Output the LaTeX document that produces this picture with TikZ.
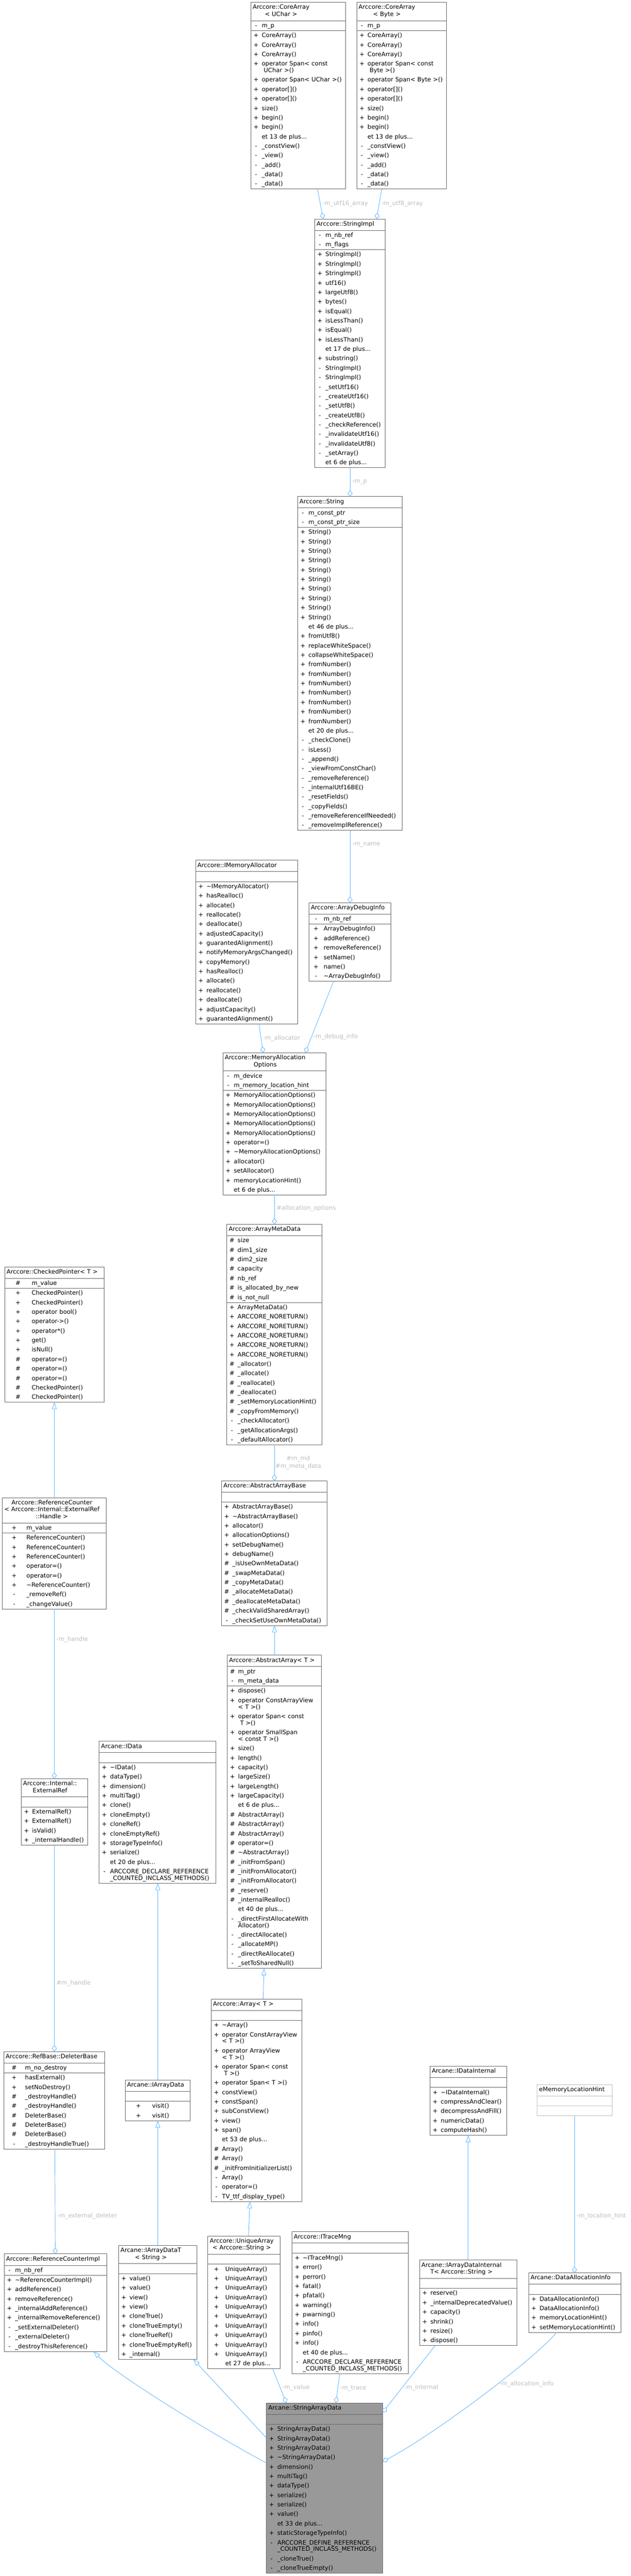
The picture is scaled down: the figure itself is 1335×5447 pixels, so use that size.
\documentclass[tikz,border=0pt]{standalone}
\usepackage{fontspec}
\setmainfont{DejaVu Sans}
\usepackage{array}
\usetikzlibrary{shapes.multipart,arrows.meta,calc}

\definecolor{boxline}{HTML}{666666}
\definecolor{boxlight}{HTML}{BFBFBF}
\definecolor{boxfocus}{HTML}{999999}
\definecolor{edgeblue}{HTML}{63B8FF}
\definecolor{lblgray}{HTML}{BEBEBE}

\newcommand\classfont{\fontsize{9.5pt}{15pt}\selectfont}
\newcommand\ctitle[1]{\centering\begin{tabular}{@{}c@{}}#1\rule[-6.75pt]{0pt}{10.5pt}\end{tabular}}
\newcommand\cmem[2][10.5pt]{\begin{tabular}{@{}w{c}{#1}@{\hspace{3.75pt}}l@{}}#2\end{tabular}}
\newcommand\cnone{\rule{0pt}{15pt}}

\tikzset{
  cls/.style={draw=boxline, line width=0.75pt, fill=white, rectangle split, rectangle split parts=3,
    inner xsep=3pt, inner ysep=0pt, outer sep=0pt, anchor=north west, text width={(#1-8)*0.75pt}, font=\classfont},
  focusbox/.style={fill=boxfocus},
  faintbox/.style={draw=boxlight},
  aggrline/.style={draw=edgeblue, line width=0.75pt, -{Diamond[open, length=10pt, width=8pt]}},
  inhline/.style={draw=edgeblue, line width=0.75pt, -{Triangle[open, length=11pt, width=7.5pt]}},
  edgelbl/.style={font=\classfont, text=lblgray, anchor=west, inner xsep=3pt, inner ysep=1pt}
}

\begin{document}
\begin{tikzpicture}[x=0.75pt, y=-0.75pt]
\fill[white] (0,0) rectangle (1335,5447);
\useasboundingbox (0,0) rectangle (1335,5447);

%Core arrays
\node[cls=200] (coreuchar) at (531,5) {\ctitle{Arccore::CoreArray\\[-4pt]< UChar >}\nodepart{two}\cmem{- & m\_p}\nodepart{three}\cmem{
+ & CoreArray()\\
+ & CoreArray()\\
+ & CoreArray()\\
+ & operator Span< const\\[-4.5pt]
 & \ UChar >()\\
+ & operator Span< UChar >()\\
+ & operator[]()\\
+ & operator[]()\\
+ & size()\\
+ & begin()\\
+ & begin()\\
 & et 13 de plus...\\
- & \_constView()\\
- & \_view()\\
- & \_add()\\
- & \_data()\\
- & \_data()}};
\node[cls=190] (corebyte) at (755,5) {\ctitle{Arccore::CoreArray\\[-4pt]< Byte >}\nodepart{two}\cmem{- & m\_p}\nodepart{three}\cmem{
+ & CoreArray()\\
+ & CoreArray()\\
+ & CoreArray()\\
+ & operator Span< const\\[-4.5pt]
 & \ Byte >()\\
+ & operator Span< Byte >()\\
+ & operator[]()\\
+ & operator[]()\\
+ & size()\\
+ & begin()\\
+ & begin()\\
 & et 13 de plus...\\
- & \_constView()\\
- & \_view()\\
- & \_add()\\
- & \_data()\\
- & \_data()}};

%String implementation
\node[cls=149] (strimpl) at (666,463) {\ctitle{Arccore::StringImpl}\nodepart{two}\cmem{- & m\_nb\_ref\\
- & m\_flags}\nodepart{three}\cmem{
+ & StringImpl()\\
+ & StringImpl()\\
+ & StringImpl()\\
+ & utf16()\\
+ & largeUtf8()\\
+ & bytes()\\
+ & isEqual()\\
+ & isLessThan()\\
+ & isEqual()\\
+ & isLessThan()\\
 & et 17 de plus...\\
+ & substring()\\
- & StringImpl()\\
- & StringImpl()\\
- & \_setUtf16()\\
- & \_createUtf16()\\
- & \_setUtf8()\\
- & \_createUtf8()\\
- & \_checkReference()\\
- & \_invalidateUtf16()\\
- & \_invalidateUtf8()\\
- & \_setArray()\\
 & et 6 de plus...}};

%String
\node[cls=221] (str) at (630,1050) {\ctitle{Arccore::String}\nodepart{two}\cmem{- & m\_const\_ptr\\
- & m\_const\_ptr\_size}\nodepart{three}\cmem{
+ & String()\\
+ & String()\\
+ & String()\\
+ & String()\\
+ & String()\\
+ & String()\\
+ & String()\\
+ & String()\\
+ & String()\\
+ & String()\\
 & et 46 de plus...\\
+ & fromUtf8()\\
+ & replaceWhiteSpace()\\
+ & collapseWhiteSpace()\\
+ & fromNumber()\\
+ & fromNumber()\\
+ & fromNumber()\\
+ & fromNumber()\\
+ & fromNumber()\\
+ & fromNumber()\\
+ & fromNumber()\\
 & et 20 de plus...\\
- & \_checkClone()\\
- & isLess()\\
- & \_append()\\
- & \_viewFromConstChar()\\
- & \_removeReference()\\
- & \_internalUtf16BE()\\
- & \_resetFields()\\
- & \_copyFields()\\
- & \_removeReferenceIfNeeded()\\
- & \_removeImplReference()}};

%Allocator and debug info
\node[cls=216] (imemalloc) at (414,1819) {\ctitle{Arccore::IMemoryAllocator}\nodepart{two}\cnone\nodepart{three}\cmem{
+ & \textasciitilde IMemoryAllocator()\\
+ & hasRealloc()\\
+ & allocate()\\
+ & reallocate()\\
+ & deallocate()\\
+ & adjustedCapacity()\\
+ & guarantedAlignment()\\
+ & notifyMemoryArgsChanged()\\
+ & copyMemory()\\
+ & hasRealloc()\\
+ & allocate()\\
+ & reallocate()\\
+ & deallocate()\\
+ & adjustCapacity()\\
+ & guarantedAlignment()}};
\node[cls=173] (dbginfo) at (654,1909) {\ctitle{Arccore::ArrayDebugInfo}\nodepart{two}\cmem[16.5pt]{- & m\_nb\_ref}\nodepart{three}\cmem[16.5pt]{
+ & ArrayDebugInfo()\\
+ & addReference()\\
+ & removeReference()\\
+ & setName()\\
+ & name()\\
- & \textasciitilde ArrayDebugInfo()}};

%Allocation options
\node[cls=218] (memopts) at (472,2226) {\ctitle{Arccore::MemoryAllocation\\[-4pt]Options}\nodepart{two}\cmem{- & m\_device\\
- & m\_memory\_location\_hint}\nodepart{three}\cmem{
+ & MemoryAllocationOptions()\\
+ & MemoryAllocationOptions()\\
+ & MemoryAllocationOptions()\\
+ & MemoryAllocationOptions()\\
+ & MemoryAllocationOptions()\\
+ & operator=()\\
+ & \textasciitilde MemoryAllocationOptions()\\
+ & allocator()\\
+ & setAllocator()\\
+ & memoryLocationHint()\\
 & et 6 de plus...}};

%Meta data
\node[cls=201] (metadata) at (480,2589) {\ctitle{Arccore::ArrayMetaData}\nodepart{two}\cmem{\# & size\\
\# & dim1\_size\\
\# & dim2\_size\\
\# & capacity\\
\# & nb\_ref\\
\# & is\_allocated\_by\_new\\
\# & is\_not\_null}\nodepart{three}\cmem{
+ & ArrayMetaData()\\
+ & ARCCORE\_NORETURN()\\
+ & ARCCORE\_NORETURN()\\
+ & ARCCORE\_NORETURN()\\
+ & ARCCORE\_NORETURN()\\
+ & ARCCORE\_NORETURN()\\
\# & \_allocator()\\
\# & \_allocate()\\
\# & \_reallocate()\\
\# & \_deallocate()\\
\# & \_setMemoryLocationHint()\\
\# & \_copyFromMemory()\\
- & \_checkAllocator()\\
- & \_getAllocationArgs()\\
- & \_defaultAllocator()}};

%Checked pointer and reference counter
\node[cls=211] (chkptr) at (10,2679) {\ctitle{Arccore::CheckedPointer< T >}\nodepart{two}\cmem[36pt]{\# & m\_value}\nodepart{three}\cmem[36pt]{
+ & CheckedPointer()\\
+ & CheckedPointer()\\
+ & operator bool()\\
+ & operator->()\\
+ & operator*()\\
+ & get()\\
+ & isNull()\\
\# & operator=()\\
\# & operator=()\\
\# & operator=()\\
\# & CheckedPointer()\\
\# & CheckedPointer()}};
\node[cls=220] (refcnt) at (5,3167) {\ctitle{Arccore::ReferenceCounter\\[-4pt]< Arccore::Internal::ExternalRef\\[-4pt]::Handle >}\nodepart{two}\cmem[31.5pt]{+ & m\_value}\nodepart{three}\cmem[31.5pt]{
+ & ReferenceCounter()\\
+ & ReferenceCounter()\\
+ & ReferenceCounter()\\
+ & operator=()\\
+ & operator=()\\
+ & \textasciitilde ReferenceCounter()\\
- & \_removeRef()\\
- & \_changeValue()}};

%Abstract array base
\node[cls=223] (absbase) at (469,3131) {\ctitle{Arccore::AbstractArrayBase}\nodepart{two}\cnone\nodepart{three}\cmem{
+ & AbstractArrayBase()\\
+ & \textasciitilde AbstractArrayBase()\\
+ & allocator()\\
+ & allocationOptions()\\
+ & setDebugName()\\
+ & debugName()\\
\# & \_isUseOwnMetaData()\\
\# & \_swapMetaData()\\
\# & \_copyMetaData()\\
\# & \_allocateMetaData()\\
\# & \_deallocateMetaData()\\
\# & \_checkValidSharedArray()\\
- & \_checkSetUseOwnMetaData()}};

%Abstract array
\node[cls=199] (absarray) at (481,3500) {\ctitle{Arccore::AbstractArray< T >}\nodepart{two}\cmem{\# & m\_ptr\\
- & m\_meta\_data}\nodepart{three}\cmem{
+ & dispose()\\
+ & operator ConstArrayView\\[-4.5pt]
 & < T >()\\
+ & operator Span< const\\[-4.5pt]
 & \ T >()\\
+ & operator SmallSpan\\[-4.5pt]
 & < const T >()\\
+ & size()\\
+ & length()\\
+ & capacity()\\
+ & largeSize()\\
+ & largeLength()\\
+ & largeCapacity()\\
 & et 6 de plus...\\
\# & AbstractArray()\\
\# & AbstractArray()\\
\# & AbstractArray()\\
\# & operator=()\\
\# & \textasciitilde AbstractArray()\\
\# & \_initFromSpan()\\
\# & \_initFromAllocator()\\
\# & \_initFromAllocator()\\
\# & \_reserve()\\
\# & \_internalRealloc()\\
 & et 40 de plus...\\
- & \_directFirstAllocateWith\\[-4.5pt]
 & Allocator()\\
- & \_directAllocate()\\
- & \_allocateMP()\\
- & \_directReAllocate()\\
- & \_setToSharedNull()}};

%Data interface
\node[cls=247] (idata) at (210,3682) {\ctitle{Arcane::IData}\nodepart{two}\cnone\nodepart{three}\cmem{
+ & \textasciitilde IData()\\
+ & dataType()\\
+ & dimension()\\
+ & multiTag()\\
+ & clone()\\
+ & cloneEmpty()\\
+ & cloneRef()\\
+ & cloneEmptyRef()\\
+ & storageTypeInfo()\\
+ & serialize()\\
 & et 20 de plus...\\
- & ARCCORE\_DECLARE\_REFERENCE\\[-4.5pt]
 & \_COUNTED\_INCLASS\_METHODS()}};

%External reference
\node[cls=141] (extref) at (45,3761) {\ctitle{Arccore::Internal::\\[-4pt]ExternalRef}\nodepart{two}\cnone\nodepart{three}\cmem{
+ & ExternalRef()\\
+ & ExternalRef()\\
+ & isValid()\\
+ & \_internalHandle()}};

%Array
\node[cls=192] (array) at (447,4227) {\ctitle{Arccore::Array< T >}\nodepart{two}\cnone\nodepart{three}\cmem{
+ & \textasciitilde Array()\\
+ & operator ConstArrayView\\[-4.5pt]
 & < T >()\\
+ & operator ArrayView\\[-4.5pt]
 & < T >()\\
+ & operator Span< const\\[-4.5pt]
 & \ T >()\\
+ & operator Span< T >()\\
+ & constView()\\
+ & constSpan()\\
+ & subConstView()\\
+ & view()\\
+ & span()\\
 & et 53 de plus...\\
\# & Array()\\
\# & Array()\\
\# & \_initFromInitializerList()\\
- & Array()\\
- & operator=()\\
- & TV\_ttf\_display\_type()}};

%Deleter base
\node[cls=214] (delbase) at (8,4338) {\ctitle{Arccore::RefBase::DeleterBase}\nodepart{two}\cmem[27pt]{\# & m\_no\_destroy}\nodepart{three}\cmem[27pt]{
+ & hasExternal()\\
+ & setNoDestroy()\\
\# & \_destroyHandle()\\
\# & \_destroyHandle()\\
\# & DeleterBase()\\
\# & DeleterBase()\\
\# & DeleterBase()\\
- & \_destroyHandleTrue()}};

%Data internal
\node[cls=162] (datainternal) at (910,4369) {\ctitle{Arcane::IDataInternal}\nodepart{two}\cnone\nodepart{three}\cmem{
+ & \textasciitilde IDataInternal()\\
+ & compressAndClear()\\
+ & decompressAndFill()\\
+ & numericData()\\
+ & computeHash()}};

%Array data interface
\node[cls=138] (iarraydata) at (265,4398) {\ctitle{Arcane::IArrayData}\nodepart{two}\cnone\nodepart{three}\cmem[36pt]{
+ & visit()\\
+ & visit()}};

%Location hint
\node[cls=159, faintbox] (lochint) at (1137,4408) {\ctitle{eMemoryLocationHint}\nodepart{two}\cnone\nodepart{three}\cnone};

%Trace manager
\node[cls=246] (tracemng) at (618,4719) {\ctitle{Arccore::ITraceMng}\nodepart{two}\cnone\nodepart{three}\cmem{
+ & \textasciitilde ITraceMng()\\
+ & error()\\
+ & perror()\\
+ & fatal()\\
+ & pfatal()\\
+ & warning()\\
+ & pwarning()\\
+ & info()\\
+ & pinfo()\\
+ & info()\\
 & et 40 de plus...\\
- & ARCCORE\_DECLARE\_REFERENCE\\[-4.5pt]
 & \_COUNTED\_INCLASS\_METHODS()}};

%Unique array
\node[cls=153] (uniquearr) at (440,4728) {\ctitle{Arccore::UniqueArray\\[-4pt]< Arccore::String >}\nodepart{two}\cnone\nodepart{three}\cmem[21pt]{
+ & UniqueArray()\\
+ & UniqueArray()\\
+ & UniqueArray()\\
+ & UniqueArray()\\
+ & UniqueArray()\\
+ & UniqueArray()\\
+ & UniqueArray()\\
+ & UniqueArray()\\
+ & UniqueArray()\\
+ & UniqueArray()\\
 & et 27 de plus...}};

%Typed array data
\node[cls=166] (iarraydatat) at (251,4748) {\ctitle{Arcane::IArrayDataT\\[-4pt]< String >}\nodepart{two}\cnone\nodepart{three}\cmem{
+ & value()\\
+ & value()\\
+ & view()\\
+ & view()\\
+ & cloneTrue()\\
+ & cloneTrueEmpty()\\
+ & cloneTrueRef()\\
+ & cloneTrueEmptyRef()\\
+ & \_internal()}};

%Reference counter implementation
\node[cls=217] (refcntimpl) at (9,4766) {\ctitle{Arccore::ReferenceCounterImpl}\nodepart{two}\cmem{- & m\_nb\_ref}\nodepart{three}\cmem{
+ & \textasciitilde ReferenceCounterImpl()\\
+ & addReference()\\
+ & removeReference()\\
+ & \_internalAddReference()\\
+ & \_internalRemoveReference()\\
- & \_setExternalDeleter()\\
- & \_externalDeleter()\\
- & \_destroyThisReference()}};

%Internal typed array data
\node[cls=206] (arrayinternal) at (888,4779) {\ctitle{Arcane::IArrayDataInternal\\[-4pt]T< Arccore::String >}\nodepart{two}\cnone\nodepart{three}\cmem{
+ & reserve()\\
+ & \_internalDeprecatedValue()\\
+ & capacity()\\
+ & shrink()\\
+ & resize()\\
+ & dispose()}};

%Allocation info
\node[cls=195] (allocinfo) at (1119,4806) {\ctitle{Arcane::DataAllocationInfo}\nodepart{two}\cnone\nodepart{three}\cmem{
+ & DataAllocationInfo()\\
+ & DataAllocationInfo()\\
+ & memoryLocationHint()\\
+ & setMemoryLocationHint()}};

%String array data
\node[cls=246, focusbox] (strdata) at (564,5081) {\ctitle{Arcane::StringArrayData}\nodepart{two}\cnone\nodepart{three}\cmem{
+ & StringArrayData()\\
+ & StringArrayData()\\
+ & StringArrayData()\\
+ & \textasciitilde StringArrayData()\\
+ & dimension()\\
+ & multiTag()\\
+ & dataType()\\
+ & serialize()\\
+ & serialize()\\
+ & value()\\
 & et 33 de plus...\\
+ & staticStorageTypeInfo()\\
- & ARCCORE\_DEFINE\_REFERENCE\\[-4.5pt]
 & \_COUNTED\_INCLASS\_METHODS()\\
- & \_cloneTrue()\\
- & \_cloneTrueEmpty()}};

%Members
\draw[aggrline] ($(coreuchar.south west)+(141,0)$) -- ($(strimpl.north west)+(18,0)$) node[edgelbl, pos=0.5] (lutf16) {-m\_utf16\_array};
\draw[aggrline] ($(corebyte.south west)+(53,0)$) -- ($(strimpl.north west)+(131,0)$) node[edgelbl, pos=0.5] (lutf8) {-m\_utf8\_array};
\draw[aggrline] ($(strimpl.south west)+(75,0)$) -- ($(str.north west)+(111,0)$) node[edgelbl, pos=0.5] (lmp) {-m\_p};
\draw[aggrline] ($(str.south west)+(111,0)$) -- ($(dbginfo.north west)+(87,0)$) node[edgelbl, pos=0.2] (lname) {-m\_name};
\draw[aggrline] ($(imemalloc.south west)+(134,0)$) -- ($(memopts.north west)+(85,0)$) node[edgelbl, pos=0.5] (lalloc) {-m\_allocator};
\draw[aggrline] ($(dbginfo.south west)+(52,0)$) -- ($(memopts.north west)+(174,0)$) node[edgelbl, pos=0.78] (ldebug) {-m\_debug\_info};
\draw[aggrline] ($(memopts.south west)+(109,0)$) -- ($(metadata.north west)+(101,0)$) node[edgelbl, pos=0.45] (lopts) {\#allocation\_options};
\draw[aggrline] ($(metadata.south west)+(101,0)$) -- ($(absbase.north west)+(112,0)$) node[edgelbl, pos=0.5, align=center, inner xsep=1pt] (lmeta) {\#m\_md\\[-3pt]\#m\_meta\_data};
\draw[aggrline] ($(refcnt.south west)+(110,0)$) -- ($(extref.north west)+(70,0)$) node[edgelbl, pos=0.18] (lhandle) {-m\_handle};
\draw[aggrline] ($(extref.south west)+(70,0)$) -- ($(delbase.north west)+(107,0)$) node[edgelbl, pos=0.67] (lhandleb) {\#m\_handle};
\draw[aggrline] ($(delbase.south west)+(108,0)$) -- ($(refcntimpl.north west)+(108,0)$) node[edgelbl, pos=0.64] (ldeleter) {-m\_external\_deleter};
\draw[aggrline] ($(lochint.south west)+(79,0)$) -- ($(allocinfo.north west)+(97,0)$) node[edgelbl, pos=0.64] (lhint) {-m\_location\_hint};
\draw[aggrline] ($(uniquearr.south west)+(137,0)$) -- ($(strdata.north west)+(42,0)$) node[edgelbl, pos=0.55] (lvalue) {-m\_value};
\draw[aggrline] ($(tracemng.south west)+(101,0)$) -- ($(strdata.north west)+(147,0)$) node[edgelbl, pos=0.5] (ltrace) {-m\_trace};
\draw[aggrline] ($(arrayinternal.south west)+(33,0)$) -- ($(strdata.north east)+(0,20)$) node[edgelbl, pos=0.63] (linternal) {-m\_internal};
\draw[aggrline] ($(allocinfo.south west)+(59,0)$) .. controls +(-45,55) and +(110,-58) .. ($(strdata.north east)+(0,124)$) node[edgelbl, pos=0.42] (lallocinfo) {-m\_allocation\_info};

%Inheritance
\draw[inhline] ($(absarray.north west)+(100,0)$) -- ($(absbase.south west)+(112,0)$);
\draw[inhline] ($(refcnt.north west)+(110,0)$) -- ($(chkptr.south west)+(105,0)$);
\draw[inhline] ($(iarraydata.north west)+(69,0)$) -- ($(idata.south west)+(124,0)$);
\draw[inhline] ($(iarraydatat.north west)+(83,0)$) -- ($(iarraydata.south west)+(69,0)$);
\draw[inhline] ($(array.north west)+(110,0)$) -- ($(absarray.south west)+(78,0)$);
\draw[inhline] ($(uniquearr.north west)+(86,0)$) -- ($(array.south west)+(82,0)$);
\draw[inhline] ($(arrayinternal.north west)+(103,0)$) -- ($(datainternal.south west)+(81,0)$);
\draw[inhline] ($(strdata.north west)+(0,127)$) .. controls +(-120,-64) and +(45,47) .. ($(refcntimpl.south west)+(189,0)$);
\draw[inhline] ($(strdata.north west)+(0,74)$) -- ($(iarraydatat.south west)+(158,0)$);
\end{tikzpicture}
\end{document}
